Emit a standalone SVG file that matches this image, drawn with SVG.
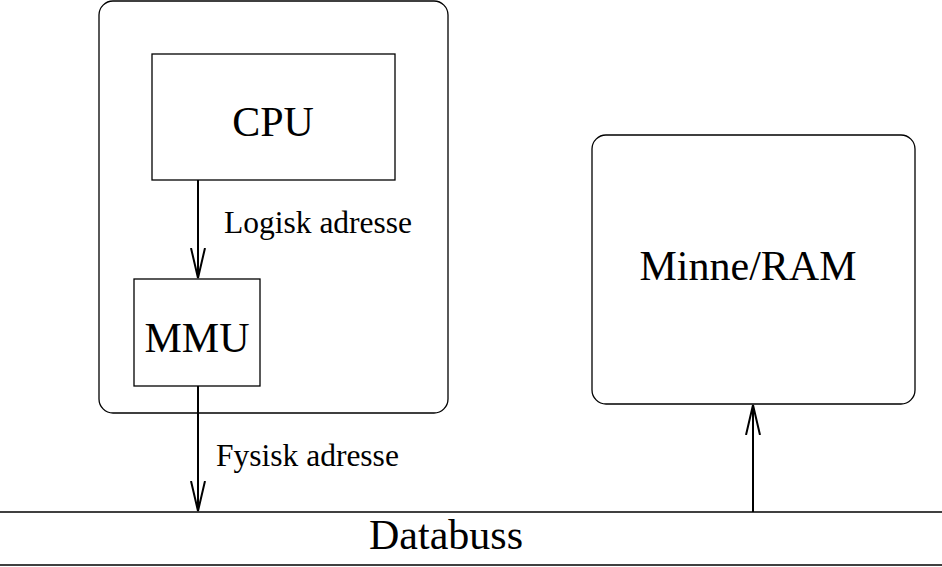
<svg xmlns="http://www.w3.org/2000/svg" width="942" height="567" viewBox="0 0 942 567">
<style>
.b{fill:none;stroke:#000;stroke-width:1.3}
.c{stroke:#000;stroke-width:2;fill:none}
text{font-family:"Liberation Serif",serif;fill:#000}
.big{font-size:42px;text-anchor:middle}
.sm{font-size:31.5px}
</style>
<defs><marker id="a" markerWidth="40" markerHeight="20" refX="30" refY="10" markerUnits="userSpaceOnUse" orient="auto" viewBox="0 0 40 20"><path d="M0,3 L30,10 L0,17" fill="none" stroke="#000" stroke-width="2"/></marker></defs>
<rect width="942" height="567" fill="#fff"/>
<g id="computer"><rect class="b" x="99" y="1" width="349" height="412" rx="14"/></g>
<g id="cpu"><rect class="b" x="152" y="54" width="243" height="126"/><text class="big" x="273" y="136">CPU</text></g>
<g id="mmu"><rect class="b" x="134" y="279" width="126" height="107"/><text class="big" x="197" y="352">MMU</text></g>
<g id="ram"><rect class="b" x="592" y="135" width="323" height="269" rx="14"/><text class="big" x="748" y="280">Minne/RAM</text></g>
<g id="bus"><line class="b" x1="0" y1="512" x2="942" y2="512"/><line class="b" x1="0" y1="565" x2="942" y2="565"/><text class="big" x="446" y="549">Databuss</text></g>
<g id="connectors">
<line class="c" x1="198" y1="180" x2="198" y2="278" marker-end="url(#a)"/>
<text class="sm" x="224" y="233">Logisk adresse</text>
<line class="c" x1="198" y1="386" x2="198" y2="511" marker-end="url(#a)"/>
<text class="sm" x="216" y="466">Fysisk adresse</text>
<line class="c" x1="753" y1="512" x2="753" y2="405" marker-end="url(#a)"/>
</g>
</svg>
